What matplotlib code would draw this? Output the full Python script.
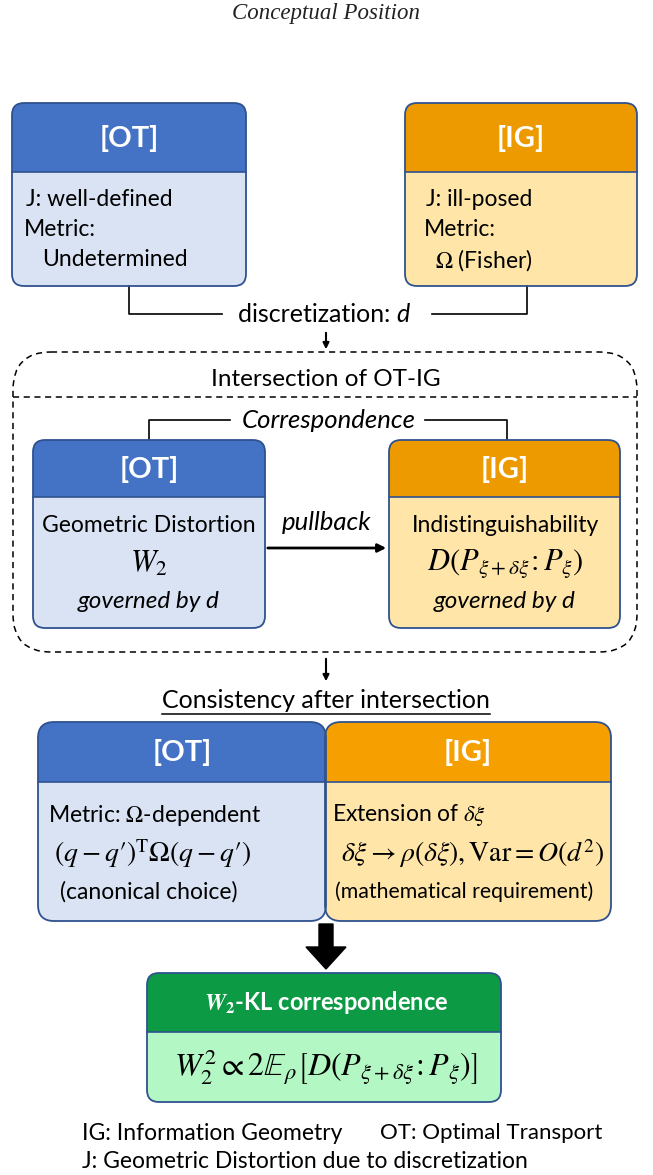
import matplotlib
matplotlib.use("Agg")
import matplotlib.pyplot as plt
from matplotlib.patches import FancyBboxPatch, Rectangle, FancyArrow

plt.rcParams['font.family'] = ['Lato', 'DejaVu Sans']
plt.rcParams['mathtext.fontset'] = 'stix'

# colours
OT_HEAD = '#4472C4'
OT_BODY = '#DAE3F3'
IG_HEAD = '#EC9A00'
IG_HEAD2 = '#F5A000'
IG_BODY = '#FFE6A8'
GR_HEAD = '#0D9A45'
GR_BODY = '#B3F8C4'
EDGE = '#2F528F'

# texts
title = 'Conceptual Position'
top_ot_lines = ['J: well-defined', 'Metric:', 'Undetermined']
top_ig_lines = ['J: ill-posed', 'Metric:', r'$\Omega$ (Fisher)']
mid_ot_lines = ['Geometric Distortion', r'$W_2$', 'governed by d']
mid_ig_lines = ['Indistinguishability', r'$D\left(P_{\xi+\delta\xi}\!:P_{\xi}\right)$', 'governed by d']
bot_ot_lines = [r'Metric: $\Omega$-dependent', r"$(q-q\prime)^{\mathrm{T}}\Omega(q-q\prime)$", '(canonical choice)']
bot_ig_lines = [r'Extension of $\delta\xi$', r'$\delta\xi\rightarrow\rho(\delta\xi),\mathrm{Var}=O(d^2)$', '(mathematical requirement)']
green_title = r'$\mathbfit{W}_{\mathbf{2}}$-KL correspondence'
green_formula = r'$W_2^2\propto 2\mathbb{E}_\rho\left[D\left(P_{\xi+\delta\xi}\!:P_\xi\right)\right]$'
footer = ['IG: Information Geometry', 'OT: Optimal Transport', 'J: Geometric Distortion due to discretization']

fig = plt.figure(figsize=(6.53, 11.75), dpi=100)
ax = fig.add_axes([0, 0, 1, 1])
ax.set_xlim(0, 653)
ax.set_ylim(1175, 0)
ax.axis('off')


def card(x, y, w, h, hh, head, body, label, r=12):
    bg = FancyBboxPatch((x, y), w, h, boxstyle='round,pad=0,rounding_size=%d' % r,
                        fc=body, ec='none', zorder=2)
    ax.add_patch(bg)
    hd = FancyBboxPatch((x, y), w, h, boxstyle='round,pad=0,rounding_size=%d' % r,
                        fc=head, ec='none', zorder=3)
    ax.add_patch(hd)
    clip = Rectangle((x - 2, y - 2), w + 4, hh + 2, transform=ax.transData)
    hd.set_clip_path(clip)
    ax.plot([x, x + w], [y + hh, y + hh], color=EDGE, lw=1.2, zorder=4)
    ax.add_patch(FancyBboxPatch((x, y), w, h, boxstyle='round,pad=0,rounding_size=%d' % r,
                                fc='none', ec=EDGE, lw=1.3, zorder=5))
    ax.text(x + w / 2, y + hh / 2 + 1, label, color='white', fontsize=21,
            fontweight='bold', ha='center', va='center', zorder=6)


TXT = 16.5

# title
ax.text(326, 13, title, family='Liberation Serif', style='italic', fontsize=16.5,
        ha='center', va='center', color='#222222')

# top boxes
card(12, 103, 234, 183, 69, OT_HEAD, OT_BODY, '[OT]')
card(405, 103, 232, 183, 69, IG_HEAD, IG_BODY, '[IG]')
for s, x, y in zip(top_ot_lines, [26, 24, 42], [199, 230, 260]):
    ax.text(x, y, s, fontsize=TXT, ha='left', va='center', zorder=6)
for s, x, y in zip(top_ig_lines, [426, 424, 435], [199, 230, 260]):
    ax.text(x, y, s, fontsize=TXT, ha='left', va='center', zorder=6)

# discretization bracket
ax.plot([129, 129, 222], [286, 314, 314], color='black', lw=1.2)
ax.plot([432, 527, 527], [314, 314, 286], color='black', lw=1.2)
td = ax.text(238, 314, 'discretization: ', fontsize=18, ha='left', va='center')
fig.canvas.draw()
b = td.get_window_extent().transformed(ax.transData.inverted())
ax.text(max(b.x0, b.x1), 314, 'd', fontsize=18, style='italic', ha='left', va='center')
ax.annotate('', xy=(326, 352), xytext=(326, 330),
            arrowprops=dict(arrowstyle='-|>', color='black', lw=1.5, mutation_scale=9))

# dashed intersection region
ax.add_patch(FancyBboxPatch((13, 352), 624, 300, boxstyle='round,pad=0,rounding_size=38',
                            fc='none', ec='black', lw=1.1, ls=(0, (4, 3)), zorder=1))
ax.plot([13, 637], [397, 397], color='black', lw=1.1, ls=(0, (4, 3)), zorder=1)
ax.text(326, 380, 'Intersection of OT-IG', fontsize=17.5, ha='center', va='center')

# correspondence bracket
ax.plot([149, 149, 230], [440, 420, 420], color='black', lw=1.2)
ax.plot([425, 507, 507], [420, 420, 440], color='black', lw=1.2)
ax.text(329, 421, 'Correspondence', fontsize=18.5, style='italic', ha='center', va='center')

# middle boxes
card(33, 440, 232, 188, 57, OT_HEAD, OT_BODY, '[OT]')
card(389, 440, 231, 188, 57, IG_HEAD, IG_BODY, '[IG]')
mid_sizes = [TXT, 22, 17.5]
mid_styles = ['normal', 'normal', 'italic']
for i, s in enumerate(mid_ot_lines):
    ax.text(149, 525 + 38 * i, s, fontsize=mid_sizes[i], style=mid_styles[i],
            ha='center', va='center', zorder=6)
for i, s in enumerate(mid_ig_lines):
    ax.text(505, 525 + 38 * i, s, fontsize=mid_sizes[i], style=mid_styles[i],
            ha='center', va='center', zorder=6)

# pullback arrow
ax.annotate('', xy=(389, 548), xytext=(265, 548),
            arrowprops=dict(arrowstyle='-|>', color='black', lw=2, mutation_scale=12),
            zorder=7)
ax.text(327, 523, 'pullback', fontsize=18.5, style='italic', ha='center', va='center')

ax.annotate('', xy=(326, 684), xytext=(326, 656),
            arrowprops=dict(arrowstyle='-|>', color='black', lw=1.5, mutation_scale=9))

# consistency
t = ax.text(326, 701, 'Consistency after intersection', fontsize=18, ha='center', va='center')
fig.canvas.draw()
bb = t.get_window_extent().transformed(ax.transData.inverted())
ax.plot([min(bb.x0, bb.x1), max(bb.x0, bb.x1)], [714, 714], color='black', lw=1.1)

card(38, 722, 288, 199, 60, OT_HEAD, OT_BODY, '[OT]', r=16)
card(325, 722, 286, 199, 60, IG_HEAD2, IG_BODY, '[IG]', r=16)
for s, x, y, fs in zip(bot_ot_lines, [48, 54, 60], [815, 854, 892], [TXT, 20, TXT]):
    ax.text(x, y, s, fontsize=fs, ha='left', va='center', zorder=6)
for s, x, y, fs in zip(bot_ig_lines, [332, 341, 335], [815, 854, 892], [TXT, 20, 15.3]):
    ax.text(x, y, s, fontsize=fs, ha='left', va='center', zorder=6)

# big arrow
ax.add_patch(FancyArrow(326, 924, 0, 45, width=14, head_width=40, head_length=22,
                        length_includes_head=True, color='black', zorder=3))

# green result box
ax.add_patch(FancyBboxPatch((147, 973), 354, 129, boxstyle='round,pad=0,rounding_size=12',
                            fc=GR_BODY, ec='none', zorder=2))
gh = FancyBboxPatch((147, 973), 354, 129, boxstyle='round,pad=0,rounding_size=12',
                    fc=GR_HEAD, ec='none', zorder=3)
ax.add_patch(gh)
gh.set_clip_path(Rectangle((145, 971), 358, 61, transform=ax.transData))
ax.plot([147, 501], [1032, 1032], color=EDGE, lw=1.2, zorder=4)
ax.add_patch(FancyBboxPatch((147, 973), 354, 129, boxstyle='round,pad=0,rounding_size=12',
                            fc='none', ec=EDGE, lw=1.3, zorder=5))
ax.text(326, 1003, green_title, fontsize=17, fontweight='bold', color='white',
        ha='center', va='center', zorder=6)
ax.text(326, 1067, green_formula, fontsize=23, ha='center', va='center', zorder=6)

# footer
ax.text(82, 1133, footer[0], fontsize=TXT, ha='left', va='center')
ax.text(380, 1133, footer[1], fontsize=16, ha='left', va='center')
ax.text(82, 1162, footer[2], fontsize=TXT, ha='left', va='center')

fig.savefig('out.png', dpi=100)
